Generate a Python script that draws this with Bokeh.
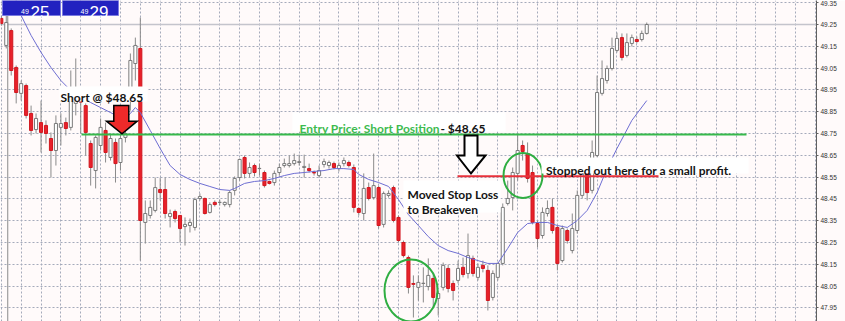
from bokeh.plotting import figure
from bokeh.models import Range1d, FixedTicker, PrintfTickFormatter, Label, BoxAnnotation, ColumnDataSource
from bokeh.embed import file_html
from bokeh.resources import INLINE

# ---------------- data ----------------
opens = [49.278, 49.154, 49.222, 49.053, 48.934, 48.970, 48.842, 48.768, 48.800, 48.787,
         48.727, 48.672, 48.778, 48.800, 48.778, 48.888, 48.901, 48.878, 48.704, 48.580,
         48.695, 48.764, 48.640, 48.709, 48.617, 48.732, 48.961, 49.071, 49.140, 48.342,
         48.374, 48.397, 48.493, 48.493, 48.369, 48.392, 48.374, 48.323, 48.328, 48.319,
         48.452, 48.452, 48.388, 48.434, 48.434, 48.424, 48.424, 48.489, 48.548, 48.640,
         48.567, 48.603, 48.589, 48.571, 48.530, 48.525, 48.571, 48.603, 48.603, 48.612,
         48.617, 48.594, 48.589, 48.571, 48.557, 48.608, 48.603, 48.612, 48.589, 48.612,
         48.617, 48.594, 48.406, 48.383, 48.502, 48.456, 48.502, 48.333, 48.466, 48.502,
         48.365, 48.250, 48.181, 48.062, 48.044, 48.062, 48.048, 48.085, 47.993, 48.044,
         48.131, 48.062, 48.076, 48.136, 48.108, 48.177, 48.090, 48.145, 48.122, 47.998,
         48.090, 48.154, 48.429, 48.456, 48.567, 48.695, 48.658, 48.571, 48.337, 48.282,
         48.383, 48.411, 48.319, 48.167, 48.305, 48.213, 48.305, 48.466, 48.571, 48.489,
         48.649, 48.934, 48.993, 49.048, 49.131, 49.190, 49.108, 49.163, 49.181, 49.181,
         49.209]
highs = [49.291, 49.291, 49.232, 49.062, 48.993, 48.979, 48.878, 48.842, 48.901, 48.810,
         48.755, 48.833, 48.842, 48.823, 49.039, 49.094, 48.906, 48.888, 48.718, 48.741,
         48.819, 48.800, 48.750, 48.727, 48.755, 48.764, 49.117, 49.190, 49.282, 48.443,
         48.443, 48.548, 48.548, 48.548, 48.401, 48.401, 48.374, 48.365, 48.360, 48.456,
         48.475, 48.456, 48.434, 48.443, 48.447, 48.438, 48.489, 48.553, 48.635, 48.649,
         48.617, 48.612, 48.612, 48.580, 48.534, 48.580, 48.612, 48.635, 48.649, 48.658,
         48.653, 48.653, 48.612, 48.580, 48.603, 48.635, 48.626, 48.621, 48.617, 48.640,
         48.626, 48.608, 48.411, 48.567, 48.525, 48.658, 48.511, 48.484, 48.489, 48.511,
         48.374, 48.259, 48.190, 48.099, 48.099, 48.136, 48.177, 48.108, 48.030, 48.158,
         48.149, 48.076, 48.167, 48.181, 48.291, 48.190, 48.154, 48.167, 48.145, 48.122,
         48.158, 48.429, 48.534, 48.594, 48.750, 48.718, 48.709, 48.603, 48.351, 48.411,
         48.443, 48.452, 48.328, 48.328, 48.314, 48.383, 48.489, 48.594, 48.580, 48.718,
         49.016, 49.085, 49.062, 49.190, 49.213, 49.209, 49.209, 49.204, 49.195, 49.222,
         49.259]
lows = [49.245, 49.140, 49.016, 48.888, 48.901, 48.819, 48.741, 48.750, 48.663, 48.704,
        48.548, 48.603, 48.695, 48.741, 48.764, 48.833, 48.750, 48.649, 48.511, 48.498,
        48.672, 48.617, 48.626, 48.525, 48.580, 48.709, 48.855, 48.993, 48.167, 48.245,
        48.360, 48.388, 48.443, 48.360, 48.319, 48.342, 48.250, 48.236, 48.296, 48.305,
        48.443, 48.378, 48.383, 48.415, 48.420, 48.415, 48.411, 48.466, 48.534, 48.544,
        48.548, 48.553, 48.557, 48.502, 48.516, 48.511, 48.557, 48.594, 48.594, 48.603,
        48.603, 48.548, 48.571, 48.557, 48.548, 48.594, 48.589, 48.585, 48.576, 48.599,
        48.594, 48.388, 48.374, 48.351, 48.443, 48.447, 48.314, 48.319, 48.456, 48.342,
        48.250, 48.181, 48.016, 47.906, 47.984, 47.975, 48.030, 47.952, 47.915, 48.030,
        48.021, 47.984, 48.062, 48.090, 48.085, 48.094, 48.076, 48.113, 47.938, 47.984,
        48.076, 48.145, 48.420, 48.397, 48.534, 48.626, 48.525, 48.333, 48.227, 48.268,
        48.369, 48.291, 48.122, 48.158, 48.245, 48.200, 48.291, 48.452, 48.443, 48.475,
        48.640, 48.924, 48.979, 49.039, 49.122, 49.085, 49.099, 49.149, 49.163, 49.172,
        49.204]
closes = [49.255, 49.259, 49.039, 48.938, 48.979, 48.833, 48.764, 48.819, 48.755, 48.750,
          48.672, 48.796, 48.796, 48.773, 48.901, 48.901, 48.894, 48.755, 48.594, 48.732,
          48.778, 48.663, 48.727, 48.612, 48.727, 48.750, 49.085, 49.154, 48.351, 48.383,
          48.411, 48.502, 48.479, 48.383, 48.383, 48.360, 48.314, 48.333, 48.342, 48.447,
          48.461, 48.383, 48.424, 48.424, 48.434, 48.434, 48.479, 48.544, 48.631, 48.567,
          48.594, 48.571, 48.590, 48.511, 48.521, 48.567, 48.594, 48.612, 48.612, 48.626,
          48.621, 48.599, 48.580, 48.569, 48.580, 48.621, 48.617, 48.594, 48.603, 48.626,
          48.603, 48.411, 48.388, 48.498, 48.452, 48.511, 48.328, 48.475, 48.475, 48.351,
          48.259, 48.190, 48.044, 48.058, 48.067, 48.063, 48.099, 47.998, 48.016, 48.145,
          48.039, 48.030, 48.131, 48.103, 48.190, 48.108, 48.136, 48.131, 47.984, 48.108,
          48.154, 48.411, 48.452, 48.571, 48.672, 48.667, 48.544, 48.342, 48.268, 48.388,
          48.406, 48.305, 48.154, 48.314, 48.259, 48.314, 48.466, 48.580, 48.479, 48.663,
          48.938, 49.002, 49.048, 49.140, 49.186, 49.099, 49.167, 49.190, 49.172, 49.209,
          49.250]

ma_bar = [3, 4, 6, 8, 10, 12, 14, 16, 18, 20, 22, 24, 25, 26, 27, 28, 30, 32, 34, 36,
          38, 40, 42, 44, 46, 47, 49, 51, 53, 55, 57, 59, 61, 63, 65, 67, 69, 71, 72, 74,
          76, 78, 80, 82, 84, 86, 88, 90, 92, 94, 96, 98, 100, 102, 104, 106, 108, 110, 112, 114,
          116, 118, 120, 122, 124, 127, 130]
ma_value = [49.360, 49.291, 49.200, 49.122, 49.053, 48.993, 48.947, 48.915, 48.892, 48.869,
            48.846, 48.823, 48.819, 48.842, 48.869, 48.846, 48.764, 48.681, 48.603, 48.562,
            48.539, 48.521, 48.507, 48.493, 48.489, 48.498, 48.521, 48.530, 48.534, 48.544,
            48.557, 48.567, 48.571, 48.576, 48.580, 48.589, 48.589, 48.585, 48.562, 48.539,
            48.525, 48.507, 48.447, 48.378, 48.328, 48.277, 48.236, 48.213, 48.200, 48.181,
            48.167, 48.154, 48.154, 48.223, 48.296, 48.337, 48.342, 48.342, 48.328, 48.319,
            48.351, 48.397, 48.479, 48.589, 48.681, 48.810, 48.901]

price_ticks = [47.95, 48.05, 48.15, 48.25, 48.35, 48.45, 48.55, 48.65, 48.75, 48.85,
               48.95, 49.05, 49.15, 49.25, 49.35]
bid_price = 49.25
entry_level = 48.745      # drawn position of the entry line
stop_level = 48.554       # drawn position of the moved stop
separator_bar = 1.3       # vertical separator near the left edge

# ---------------- layout helpers ----------------
W, H = 845, 321
FW = 816
X0, X1 = -0.161, 164.19
Y0, Y1 = 47.8876, 49.3601


def px_x(px):
    return X0 + px / FW * (X1 - X0)


def px_y(py):
    return Y1 - py / H * (Y1 - Y0)


p = figure(width=W, height=H, x_range=Range1d(X0, X1), y_range=Range1d(Y0, Y1),
           y_axis_location="right", x_axis_location=None,
           output_backend="svg", toolbar_location=None,
           min_border_left=0, min_border_top=0, min_border_bottom=0, min_border_right=W - FW)
p.background_fill_color = "#fffafa"
p.border_fill_color = "#fffafa"
p.outline_line_color = None

# grid
p.ygrid.ticker = FixedTicker(ticks=price_ticks)
p.xgrid.ticker = FixedTicker(ticks=list(range(0, 165, 4)))
for g in (p.xgrid, p.ygrid):
    g.grid_line_color = "#a4aabb"
    g.grid_line_dash = "2 2"
    g.grid_line_width = 1

ax = p.yaxis[0]
ax.ticker = FixedTicker(ticks=price_ticks)
ax.formatter = PrintfTickFormatter(format="%.2f")
ax.major_label_text_font = "Liberation Sans"
ax.major_label_text_font_size = "6.5px"
ax.major_label_text_color = "#333333"
ax.axis_line_color = "#606060"
ax.major_tick_line_color = "#606060"
ax.major_tick_out = 2
ax.major_tick_in = 0
ax.minor_tick_line_color = None
ax.major_label_standoff = 2

# bid line and left separator
p.segment(x0=[X0], x1=[X1], y0=[bid_price], y1=[bid_price], line_color="#c4c4cc", line_width=1.5)
p.segment(x0=[separator_bar], x1=[separator_bar], y0=[Y0], y1=[px_y(15)],
          line_color="#8a8a8a", line_width=1)

# candles
idx = list(range(len(opens)))
bull = [c >= o for o, c in zip(opens, closes)]
src = ColumnDataSource(dict(
    x=idx, o=opens, h=highs, l=lows, c=closes,
    top=[max(o, c) for o, c in zip(opens, closes)],
    bot=[min(o, c) for o, c in zip(opens, closes)],
    fill=["#ffffff" if b else "#e8212a" for b in bull],
    line=["#7a7a7a" if b else "#d0161e" for b in bull],
))
p.segment(x0="x", x1="x", y0="l", y1="h", source=src, line_color="#8a8a8a", line_width=1)
p.vbar(x="x", top="top", bottom="bot", width=0.62, source=src,
       fill_color="fill", line_color="line", line_width=1)

# moving average
p.line(ma_bar, ma_value, line_color="#6e6ed2", line_width=1)

# entry and stop lines
p.segment(x0=[px_x(81)], x1=[px_x(746)], y0=[entry_level], y1=[entry_level],
          line_color="#36b94a", line_width=2)
p.segment(x0=[px_x(457)], x1=[px_x(658)], y0=[stop_level], y1=[stop_level],
          line_color="#e8303a", line_width=2)

# circles
p.ellipse(x=[px_x(410.5)], y=[px_y(290)], width=[53], height=[62],
          width_units="screen", height_units="screen",
          fill_color=None, line_color="#2fae42", line_width=2)
p.ellipse(x=[px_x(522.5)], y=[px_y(175)], width=[39], height=[45],
          width_units="screen", height_units="screen",
          fill_color=None, line_color="#2fae42", line_width=2)


def arrow(pts, fill, lw):
    p.patch([px_x(a) for a, b in pts], [px_y(b) for a, b in pts],
            fill_color=fill, line_color="#000000", line_width=lw, line_join="miter")


arrow([(113.3, 105), (128.3, 105), (128.3, 120.7), (136.7, 120.7), (121.5, 133.3),
       (106, 120.7), (113.3, 120.7)], "#ee2a2a", 1.5)
arrow([(464, 135), (477, 135), (477, 155), (485, 155), (470.5, 173), (456.5, 155),
       (464, 155)], "#ffffff", 2)


# white text boxes
def wbox(l, t, r, b, color="#ffffff", line=None):
    p.add_layout(BoxAnnotation(left=px_x(l), right=px_x(r), top=px_y(t), bottom=px_y(b),
                               fill_color=color, fill_alpha=1, line_color=line,
                               line_alpha=1 if line else 0, level="annotation"))


def txt(x, y, s, color="#141414", size="12px", font="Lato", style="bold", align="left"):
    p.add_layout(Label(x=px_x(x), y=px_y(y), text=s, text_color=color, text_font=font,
                       text_font_size=size, text_font_style=style, text_align=align,
                       text_baseline="alphabetic"))


wbox(59, 86, 147, 101)
txt(60, 97.3, "Short @ $48.65")
wbox(292, 112, 505, 131)
txt(299, 127.5, "Entry Price: Short Position", color="#3dbb4f")
txt(485, 127.5, "- $48.65", align="right")
wbox(403, 180, 500, 212)
txt(407, 194, "Moved Stop Loss")
txt(407, 208.5, "to Breakeven")
wbox(541, 157, 748, 173)
txt(545.5, 169.5, "Stopped out here for a small profit.")

# top-left quote boxes
wbox(2, -5, 60, 15, color="#2222c0", line="#7a7ae0")
wbox(62, -5, 118, 15, color="#2222c0", line="#7a7ae0")
txt(20.5, 10.5, "49", color="#ffffff", size="7px", font="Liberation Sans", style="normal")
txt(30, 11.7, "25", color="#ffffff", size="17px", font="Liberation Sans", style="normal")
txt(80, 10.5, "49", color="#ffffff", size="7px", font="Liberation Sans", style="normal")
txt(89, 11.7, "29", color="#ffffff", size="17px", font="Liberation Sans", style="normal")

# bid price tag on the axis
p.add_layout(Label(x=px_x(818), y=bid_price, text="%.2f" % bid_price, text_color="#ffffff",
                   text_font="Liberation Sans", text_font_size="6.5px", text_baseline="middle",
                   background_fill_color="#000000", padding=1))

open("out.html", "w").write(file_html(p, INLINE))
